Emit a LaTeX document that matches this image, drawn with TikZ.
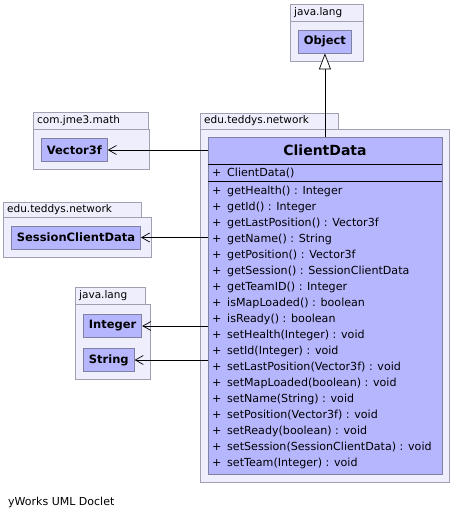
\documentclass[tikz,border=0pt]{standalone}
\usepackage{fontspec}
\setmainfont{DejaVu Sans}
\usetikzlibrary{arrows.meta}

\definecolor{pkgfill}{RGB}{238,238,252}
\definecolor{pkgline}{RGB}{160,160,178}
\definecolor{clsfill}{RGB}{182,182,255}
\definecolor{clsline}{RGB}{128,128,160}

\tikzset{
  pkg/.style={draw=pkgline,fill=pkgfill,line width=0.8pt},
  pkglabel/.style={anchor=west,inner sep=0pt,font=\fontsize{10.5}{12}\selectfont},
  cls/.style={draw=clsline,fill=clsfill,line width=0.8pt,anchor=west,inner xsep=5.5pt,
    minimum height=23pt,font=\bfseries\fontsize{11.5}{13}\selectfont},
  member/.style={anchor=west,inner sep=0pt,font=\fontsize{11.1}{13}\selectfont},
  dep/.style={-{Straight Barb[length=8pt,width=9pt]},line width=0.7pt},
  inherit/.style={-{Triangle[open,fill=white,length=16pt,width=12pt]},line width=0.7pt}
}

\begin{document}
\begin{tikzpicture}[x=1pt,y=-1pt]
\useasboundingbox (0,0) rectangle (452,519);

% packages
\draw[pkg] (290,21) rectangle (363,61);
\draw[pkg] (290,4) rectangle (363,21);
\node[pkglabel] (pkgA) at (294,12.5) {java.lang};

\draw[pkg] (33,129) rectangle (149,169);
\draw[pkg] (33,112) rectangle (148,129);
\node[pkglabel] (pkgB) at (37,120.5) {com.jme3.math};

\draw[pkg] (3,217) rectangle (151,257);
\draw[pkg] (3,202) rectangle (141,217);
\node[pkglabel] (pkgC) at (7,209.5) {edu.teddys.network};

\draw[pkg] (75,304) rectangle (150,379);
\draw[pkg] (75,287) rectangle (145,304);
\node[pkglabel] (pkgD) at (79,295.5) {java.lang};

\draw[pkg] (200,129) rectangle (449,482);
\draw[pkg] (200,113) rectangle (338,129);
\node[pkglabel] (pkgE) at (204,121) {edu.teddys.network};

% small classes
\node[cls] (obj) at (298,41.5) {Object};
\node[cls] (vec) at (41,150) {Vector3f};
\node[cls] (scd) at (11,237.5) {SessionClientData};
\node[cls] (int) at (83,326) {Integer};
\node[cls] (str) at (83,360) {String};

% main class
\node[draw=clsline,fill=clsfill,line width=0.8pt,minimum width=234pt,minimum height=337pt,
  inner sep=0pt] (cd) at (325,305.5) {};
\node[font=\bfseries\fontsize{14}{16}\selectfont] (cdname) at (325,150.5) {ClientData};
\draw[line width=0.8pt] (cd.west |- 0,164) -- (cd.east |- 0,164);
\draw[line width=0.8pt] (cd.west |- 0,181) -- (cd.east |- 0,181);
\node[member] (plus0) at (212,173) {+};
\node[member] (ctor) at (227,173) {ClientData()};

\foreach \m [count=\i] in {{getHealth() : Integer},{getId() : Integer},
  {getLastPosition() : Vector3f},{getName() : String},{getPosition() : Vector3f},
  {getSession() : SessionClientData},{getTeamID() : Integer},{isMapLoaded() : boolean},
  {isReady() : boolean},{setHealth(Integer) : void},{setId(Integer) : void},
  {setLastPosition(Vector3f) : void},{setMapLoaded(boolean) : void},
  {setName(String) : void},{setPosition(Vector3f) : void},{setReady(boolean) : void},
  {setSession(SessionClientData) : void},{setTeam(Integer) : void}}{
  \node[member] (plus\i) at (212,175+16*\i) {+};
  \node[member] (meth\i) at (227,175+16*\i) {\m};
}

% connectors
\draw[inherit] (cd.north -| obj.south) -- (obj.south);
\draw[dep] (cd.west |- vec.east) -- (vec.east);
\draw[dep] (cd.west |- scd.east) -- (scd.east);
\draw[dep] (cd.west |- int.east) -- (int.east);
\draw[dep] (cd.west |- str.east) -- (str.east);

\node[anchor=west,inner sep=0pt,font=\fontsize{11}{13}\selectfont] (footer) at (8,502) {yWorks UML Doclet};

\end{tikzpicture}
\end{document}
